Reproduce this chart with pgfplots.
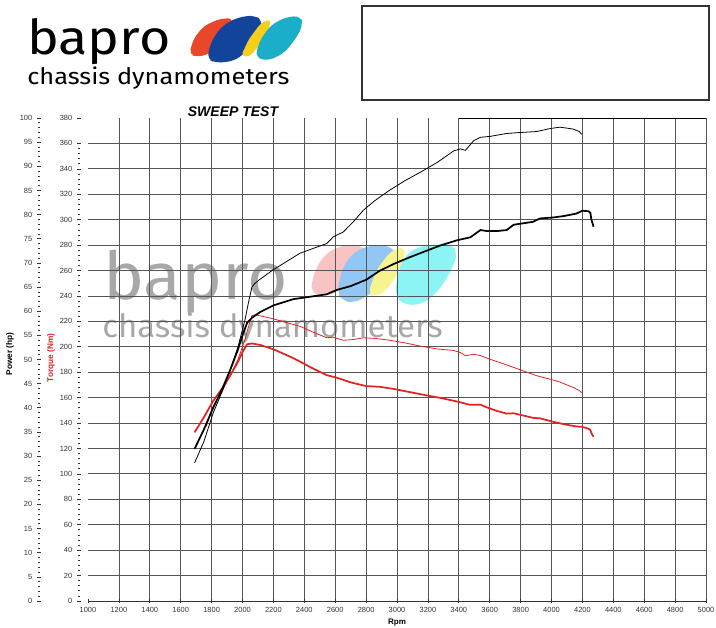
\documentclass[border=0pt]{standalone}
\usepackage{fontspec}
\setmainfont{Liberation Sans}
\newfontfamily\logofont{Fira Sans}
\usepackage{graphicx}
\usepackage{pgfplots}
\pgfplotsset{compat=1.18}
\definecolor{gridc}{HTML}{555555}
\definecolor{tickc}{HTML}{333333}
\definecolor{tq}{HTML}{E32222}
\definecolor{wm}{HTML}{A8A8A8}
\definecolor{lred}{HTML}{E8472A}
\definecolor{lblue}{HTML}{11449A}
\definecolor{lyel}{HTML}{F7CF1A}
\definecolor{lcyan}{HTML}{1AAEC8}
\definecolor{wpink}{HTML}{F8C3C3}
\definecolor{wblue}{HTML}{92C6F4}
\definecolor{wyel}{HTML}{F7F38E}
\definecolor{wcyan}{HTML}{8CF4F4}
\pgfplotsset{
  common/.style={
    at={(66pt,19.5pt)}, anchor=south west, scale only axis,
    width=463.5pt, height=362.25pt,
    xmin=1000, xmax=5000,
    /pgf/number format/assume math mode=true,
    /pgf/number format/1000 sep={},
    every tick label/.append style={font=\fontsize{5.6}{6}\selectfont, text=tickc},
    tick align=outside,
    major tick length=3pt, minor tick length=1.3pt,
    major tick style={draw=tickc, line width=0.5pt},
    minor tick style={draw=tickc, line width=0.5pt},
  }
}
\begin{document}
\begin{tikzpicture}[x=1pt,y=1pt]
\path[use as bounding box] (0,0) rectangle (537,470.25);
\begin{scope}[x=0.75pt,y=-0.75pt,yshift=470.25pt]
  % top logo
  \fill[lred, rounded corners=4pt] (189,54) -- (194,38) -- (204,26) -- (219,19) -- (233,18) -- (229,31) -- (220,44) -- (209,54) -- (197,57) -- cycle;
  \fill[lblue, rounded corners=5pt] (207,59) -- (211,42) -- (221,27) -- (236,18) -- (254,15) -- (263,21) -- (259,36) -- (249,50) -- (234,61) -- (216,63) -- cycle;
  \fill[lyel, rounded corners=3pt] (241,56) -- (249,39) -- (261,23) -- (271,19) -- (268,32) -- (259,46) -- (249,57) -- cycle;
  \fill[lcyan, rounded corners=5pt] (255,57) -- (260,40) -- (271,25) -- (286,17) -- (301,16) -- (303,25) -- (295,40) -- (283,54) -- (267,61) -- cycle;
  \node[anchor=base west, inner sep=0pt, text=black] at (27,55) {\scalebox{1.12}[1]{\logofont\fontsize{36}{36}\selectfont bapro}};
  \node[anchor=base west, inner sep=0pt, text=black] at (27,85) {\scalebox{1.12}[1]{\logofont\fontsize{17}{17}\selectfont chassis dynamometers}};
  % box
  \draw[tickc, line width=0.8pt] (362,6) rectangle (709,100);
  % watermark
  \fill[wpink, rounded corners=6pt] (310,292) -- (315,270) -- (325,254) -- (340,246) -- (361,244) -- (365,252) -- (353,271) -- (341,290) -- (325,297) -- cycle;
  \fill[wblue, rounded corners=6pt] (337,292) -- (343,266) -- (355,251) -- (372,245) -- (392,246) -- (396,256) -- (387,276) -- (372,293) -- (355,303) -- (342,301) -- cycle;
  \fill[wyel, rounded corners=5pt] (368,293) -- (377,269) -- (391,251) -- (404,246) -- (405,258) -- (396,276) -- (386,291) -- (374,297) -- cycle;
  \fill[wcyan, rounded corners=6pt] (395,297) -- (398,270) -- (408,252) -- (425,245) -- (451,244) -- (458,253) -- (451,271) -- (440,289) -- (425,303) -- (407,306) -- cycle;
  \node[anchor=base west, inner sep=0pt, text=wm] at (103,300) {\scalebox{1.05}[1]{\logofont\fontsize{49.5}{50}\selectfont bapro}};
  \node[anchor=base west, inner sep=0pt, text=wm] at (102,338) {\scalebox{1.03}[1]{\logofont\fontsize{24}{24}\selectfont chassis dynamometers}};
  % titles
  \node[font=\fontsize{10.5}{11}\selectfont\bfseries\itshape] at (233,112) {SWEEP TEST};
  \node[font=\fontsize{6.2}{7}\selectfont\bfseries, rotate=90] at (10,354) {Power (hp)};
  \node[font=\fontsize{6.2}{7}\selectfont\bfseries, rotate=90, text=tq] at (51,358) {Torque (Nm)};
  \node[font=\fontsize{6}{7}\selectfont\bfseries, anchor=base] at (397,624.5) {Rpm};
\end{scope}

% torque axis with grid
\begin{axis}[common,
  ymin=0, ymax=380,
  axis x line=bottom, axis y line=left, axis line style={-, draw=tickc},
  y axis line style={draw=none},
  axis y line shift=6.75pt,
  xtick={1200,1400,...,5000},
  extra x ticks={1000}, extra x tick style={grid=none},
  ytick={0,20,...,360},
  extra y ticks={380}, extra y tick style={grid=none},
  minor y tick num=4,
  grid=major,
  major grid style={draw=gridc, line width=0.6pt},
]
\draw[black, line width=0.7pt] (axis cs:3400,380) -- (axis cs:5000,380);
% thin red torque
\addplot[tq, line width=0.6pt] coordinates {
(1765,137.2) (1810,153.0) (1870,165.6) (1920,177.3) (1970,189.8) (2016,205.6) (2040,216.4) (2061,224.6) (2081,225.2) (2113,224.4) (2200,222.0) (2286,219.0) (2372,216.1) (2458,211.5) (2545,207.1) (2588,207.5) (2652,205.1) (2717,205.7) (2782,207.1) (2857,206.6) (2950,205.2) (3050,203.1) (3153,200.5) (3260,198.3) (3368,197.1) (3411,195.4) (3443,193.0) (3496,194.1) (3540,193.1) (3604,190.1) (3711,185.7) (3800,181.8) (3905,177.2) (3989,174.6) (4054,172.3) (4100,170.0) (4141,168.0) (4180,165.6) (4196,163.9)
};
% thick red torque
\addplot[tq, line width=1.3pt] coordinates {
(1690,132.7) (1750,144.5) (1810,157.4) (1870,167.6) (1920,177.3) (1970,188.0) (2000,195.8) (2030,202.0) (2060,202.6) (2113,201.5) (2200,198.1) (2330,191.0) (2460,182.7) (2545,177.7) (2610,175.7) (2700,172.0) (2800,169.1) (2890,168.5) (2980,166.8) (3085,164.3) (3190,161.8) (3280,159.8) (3390,156.9) (3475,154.3) (3540,154.5) (3580,152.4) (3650,149.4) (3710,147.4) (3755,147.7) (3880,144.1) (3925,143.7) (4010,141.0) (4080,139.1) (4160,137.3) (4200,137.0) (4240,135.5) (4252,134.5) (4258,132.1) (4272,129.2)
};
\end{axis}

% power axis
\begin{axis}[common,
  ymin=0, ymax=100,
  hide x axis,
  axis y line=left, y axis line style={draw=none},
  axis y line shift=36.75pt,
  ytick={0,5,...,100},
  minor y tick num=4,
]
% thin black power
\addplot[black, line width=0.6pt] coordinates {
(1690,28.6) (1750,33.0) (1810,38.9) (1870,43.5) (1920,47.8) (1970,52.5) (2016,58.2) (2040,62.0) (2061,65.0) (2081,65.8) (2113,66.6) (2200,68.6) (2286,70.3) (2372,72.0) (2458,73.0) (2545,74.0) (2588,75.4) (2652,76.4) (2717,78.5) (2782,80.9) (2857,82.9) (2950,85.0) (3050,87.0) (3153,88.8) (3260,90.8) (3368,93.2) (3411,93.6) (3443,93.3) (3496,95.3) (3540,96.0) (3604,96.2) (3711,96.8) (3800,97.0) (3905,97.2) (3989,97.8) (4054,98.1) (4100,97.9) (4141,97.7) (4180,97.2) (4196,96.6)
};
% thick black power
\addplot[black, line width=1.3pt] coordinates {
(1690,31.5) (1750,35.5) (1810,40.0) (1870,44.0) (1920,47.8) (1970,52.0) (2000,55.0) (2030,57.6) (2060,58.6) (2113,59.8) (2200,61.2) (2330,62.5) (2460,63.1) (2545,63.5) (2610,64.4) (2700,65.2) (2800,66.5) (2890,68.4) (2980,69.8) (3085,71.2) (3190,72.5) (3280,73.6) (3390,74.7) (3475,75.3) (3540,76.8) (3580,76.6) (3650,76.6) (3710,76.8) (3755,77.9) (3880,78.5) (3925,79.2) (4010,79.4) (4080,79.7) (4160,80.2) (4200,80.8) (4240,80.7) (4252,80.3) (4258,79.0) (4272,77.5)
};
\end{axis}
\end{tikzpicture}
\end{document}
